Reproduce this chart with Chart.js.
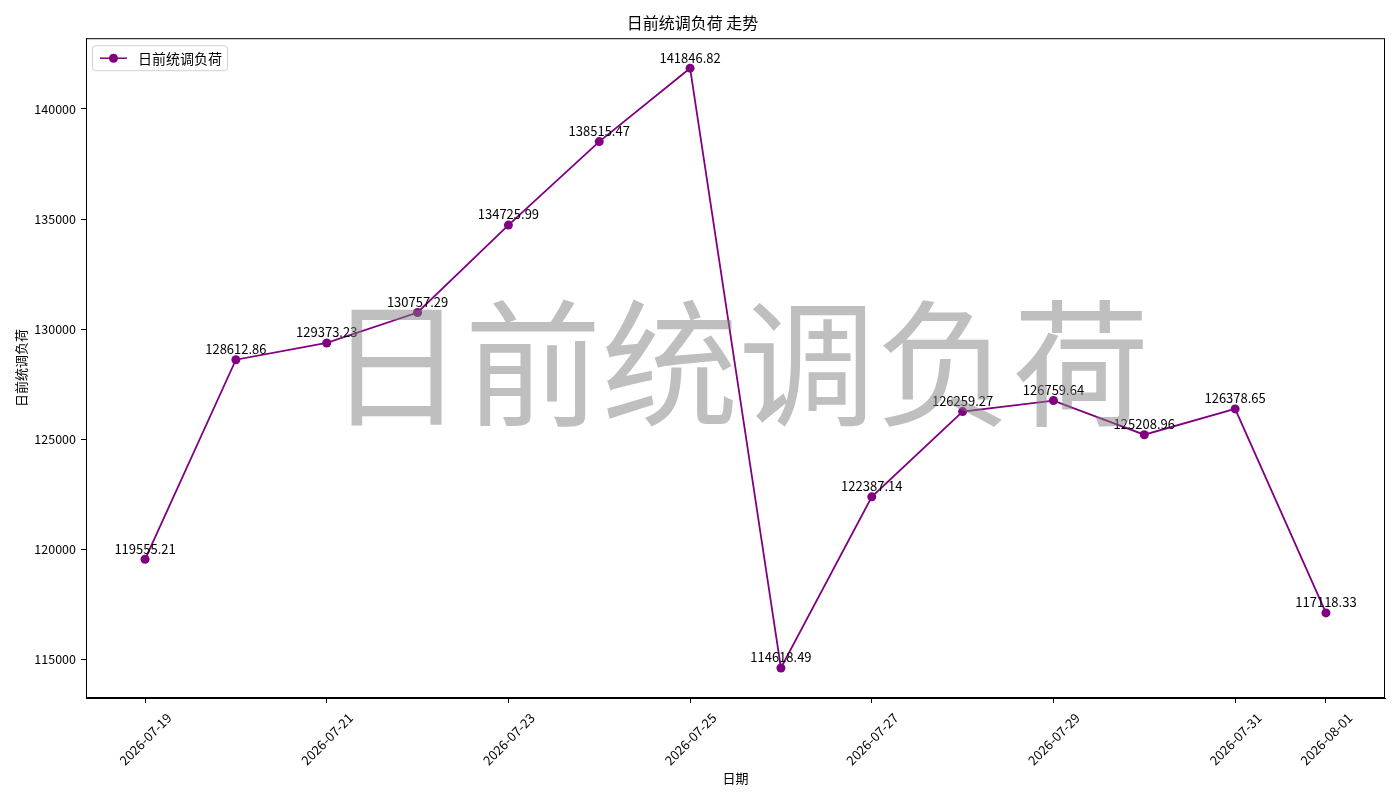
<!DOCTYPE html>
<html>
<head>
<meta charset="utf-8">
<script src="https://cdn.jsdelivr.net/npm/chart.js@4/dist/chart.umd.min.js"></script>
<style>
  html, body { margin: 0; padding: 0; background: #fff; }
  #lienzo { display: block; }
</style>
</head>
<body>
<div style="width:1400px;height:800px;">
  <canvas id="lienzo" width="1400" height="800"></canvas>
</div>
<script>
// Datos del gráfico
const fechas = ['2026-07-19', '2026-07-20', '2026-07-21', '2026-07-22', '2026-07-23', '2026-07-24', '2026-07-25',
                '2026-07-26', '2026-07-27', '2026-07-28', '2026-07-29', '2026-07-30', '2026-07-31', '2026-08-01'];
const cargas = [119555.21, 128612.86, 129373.23, 130757.29, 134725.99, 138515.47, 141846.82,
                114618.49, 122387.14, 126259.27, 126759.64, 125208.96, 126378.65, 117118.33];
const ticksFecha = [0, 2, 4, 6, 8, 10, 12, 13];
const ticksCarga = [115000, 120000, 125000, 130000, 135000, 140000];
const nombreSerie = '日前统调负荷';
const fuente = '"Noto Sans CJK SC", "DejaVu Sans", sans-serif';

// Márgenes tipo matplotlib (5%)
const minCarga = Math.min(...cargas);
const maxCarga = Math.max(...cargas);
const margenY = (maxCarga - minCarga) * 0.05;
const margenX = (fechas.length - 1) * 0.05;

// Marco completo alrededor del área del gráfico
const marcoPlugin = {
    id: 'marco',
    afterDraw(chart) {
        const { ctx, chartArea: a } = chart;
        ctx.save();
        ctx.strokeStyle = '#000';
        ctx.lineWidth = 1;
        ctx.strokeRect(a.left + 0.5, a.top + 0.5, a.right - a.left - 1, a.bottom - a.top - 1);
        ctx.restore();
    }
};

// Etiquetas con el valor encima de cada punto
const etiquetasPlugin = {
    id: 'etiquetas',
    afterDatasetsDraw(chart) {
        const { ctx } = chart;
        const meta = chart.getDatasetMeta(0);
        ctx.save();
        ctx.font = '13px ' + fuente;
        ctx.fillStyle = '#000';
        ctx.textAlign = 'center';
        ctx.textBaseline = 'bottom';
        meta.data.forEach((p, i) => {
            ctx.fillText(cargas[i].toFixed(2), p.x, p.y - 4);
        });
        ctx.restore();
    }
};

// Leyenda en la esquina superior izquierda
const leyendaPlugin = {
    id: 'leyenda',
    afterDraw(chart) {
        const { ctx, chartArea: a } = chart;
        const x = a.left + 6, y = a.top + 7, w = 135, h = 25;
        ctx.save();
        ctx.fillStyle = 'rgba(255,255,255,0.8)';
        ctx.strokeStyle = '#d0d0d0';
        ctx.lineWidth = 1;
        ctx.beginPath();
        ctx.roundRect(x + 0.5, y + 0.5, w, h, 3);
        ctx.fill();
        ctx.stroke();
        const cy = y + h / 2 + 0.5;
        ctx.strokeStyle = '#800080';
        ctx.lineWidth = 1.5;
        ctx.beginPath();
        ctx.moveTo(x + 8, cy);
        ctx.lineTo(x + 35, cy);
        ctx.stroke();
        ctx.fillStyle = '#800080';
        ctx.beginPath();
        ctx.arc(x + 21.5, cy, 4.5, 0, Math.PI * 2);
        ctx.fill();
        ctx.fillStyle = '#000';
        ctx.font = '14px ' + fuente;
        ctx.textBaseline = 'middle';
        ctx.fillText(nombreSerie, x + 46, cy);
        ctx.restore();
    }
};

// Marca de agua semitransparente encima de todo
const marcaAguaPlugin = {
    id: 'marcaAgua',
    afterDraw(chart) {
        const { ctx, chartArea: a } = chart;
        ctx.save();
        ctx.font = '137px ' + fuente;
        ctx.fillStyle = 'rgba(128,128,128,0.5)';
        ctx.textAlign = 'center';
        ctx.textBaseline = 'middle';
        ctx.fillText(nombreSerie, (a.left + a.right) / 2 + 3, (a.top + a.bottom) / 2 - 4);
        ctx.restore();
    }
};

const grafico = new Chart(document.getElementById('lienzo'), {
    type: 'line',
    data: {
        datasets: [{
            label: nombreSerie,
            data: cargas.map((v, i) => ({ x: i, y: v })),
            borderColor: '#800080',
            backgroundColor: '#800080',
            borderWidth: 1.8,
            pointRadius: 4.5,
            pointBorderWidth: 0,
            pointBackgroundColor: '#800080',
            tension: 0
        }]
    },
    options: {
        responsive: false,
        animation: false,
        devicePixelRatio: 1,
        layout: { padding: { top: 0, right: 15, left: 0, bottom: 0 } },
        plugins: {
            legend: { display: false },
            tooltip: { enabled: false },
            title: {
                display: true,
                text: nombreSerie + ' 走势',
                color: '#000',
                font: { family: fuente, size: 16, weight: 'normal' },
                padding: { top: 13, bottom: 6 }
            }
        },
        scales: {
            x: {
                type: 'linear',
                min: -margenX,
                max: fechas.length - 1 + margenX,
                afterBuildTicks(scale) {
                    scale.ticks = ticksFecha.map(v => ({ value: v }));
                },
                afterFit(scale) { scale.height = 102; },
                grid: { display: true, drawOnChartArea: false, drawTicks: true, tickLength: 5, color: '#000' },
                border: { display: true, color: '#000' },
                ticks: {
                    color: '#000',
                    font: { family: fuente, size: 13 },
                    minRotation: 45,
                    maxRotation: 45,
                    autoSkip: false,
                    labelOffset: 24,
                    padding: 7,
                    callback: v => fechas[v]
                },
                title: {
                    display: true,
                    text: '日期',
                    color: '#000',
                    font: { family: fuente, size: 13 },
                    padding: { top: 0, bottom: 14 }
                }
            },
            y: {
                min: minCarga - margenY,
                max: maxCarga + margenY,
                afterBuildTicks(scale) {
                    scale.ticks = ticksCarga.map(v => ({ value: v }));
                },
                afterFit(scale) { scale.width = 86; },
                grid: { display: true, drawOnChartArea: false, drawTicks: true, tickLength: 5, color: '#000' },
                border: { display: true, color: '#000' },
                ticks: {
                    color: '#000',
                    font: { family: fuente, size: 12.5 },
                    padding: 5,
                    callback: v => String(v)
                },
                title: {
                    display: true,
                    text: nombreSerie,
                    color: '#000',
                    font: { family: fuente, size: 13 },
                    padding: { top: 13, bottom: 0 }
                }
            }
        }
    },
    plugins: [marcoPlugin, etiquetasPlugin, leyendaPlugin, marcaAguaPlugin]
});
</script>
</body>
</html>
